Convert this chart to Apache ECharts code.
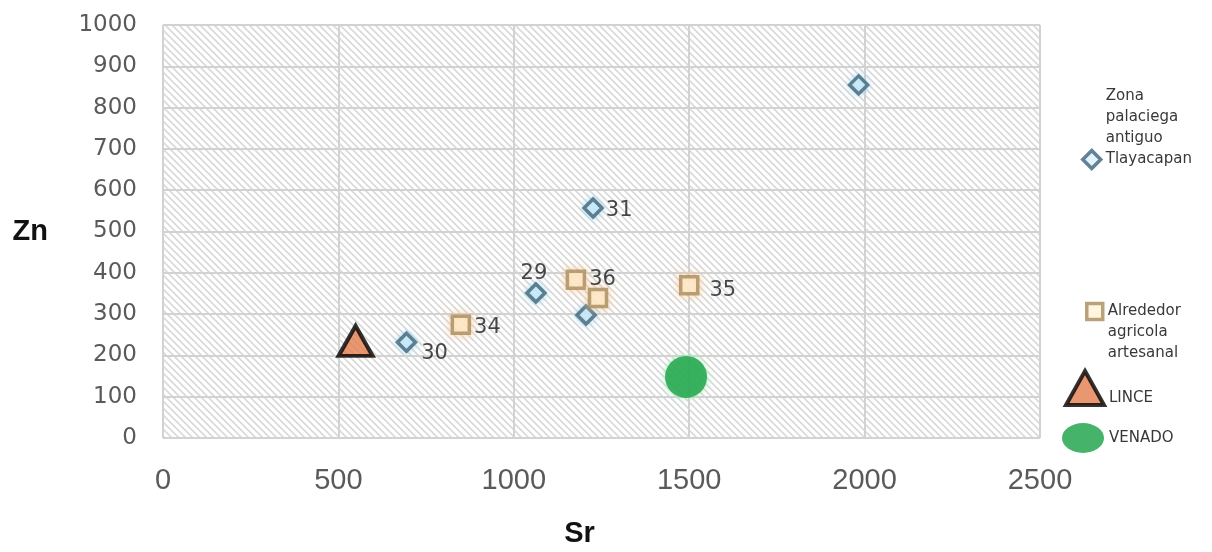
<!DOCTYPE html>
<html>
<head>
<meta charset="utf-8">
<script src="https://cdn.jsdelivr.net/npm/echarts@6/dist/echarts.min.js"></script>
<style>
  html, body { margin: 0; padding: 0; background: #ffffff; }
  #chart { width: 1212px; height: 552px; }
</style>
</head>
<body>
<div id="chart"></div>
<script>
// Sr / Zn values per group
const zonaName = 'Zona palaciega antiguo Tlayacapan';
const zonaSr = [1983, 1226, 1063, 1206, 694];
const zonaZn = [855, 557, 351, 298, 232];
const zonaLabels = ['', '31', '29', '', '30'];

const alrName = 'Alrededor agricola artesanal';
const alrSr = [849, 1177, 1240, 1500];
const alrZn = [274, 383, 339, 370];
const alrLabels = ['34', '36', '', '35'];

const linceName = 'LINCE';
const linceSr = [549];
const linceZn = [235];

const venadoName = 'VENADO';
const venadoSr = [1491];
const venadoZn = [148];

const xTicks = [0, 500, 1000, 1500, 2000, 2500];
const yTicks = [0, 100, 200, 300, 400, 500, 600, 700, 800, 900, 1000];

// label placement for the numbered points
const labelPlacement = {
  '29': { position: 'top', distance: 2, offset: [-2, 4] },
  '30': { position: 'right', distance: 4, offset: [0, 11] },
  '34': { position: 'right', distance: 3, offset: [0, 3] },
  '31': { position: 'right', distance: 2, offset: [0, 3] },
  '36': { position: 'right', distance: 3, offset: [0, 0] },
  '35': { position: 'right', distance: 10, offset: [0, 5] }
};

function points(xs, ys, labels) {
  return xs.map((x, i) => {
    const item = { value: [x, ys[i]] };
    const lab = labels ? labels[i] : '';
    if (lab) {
      const p = labelPlacement[lab];
      item.label = {
        show: true, formatter: lab, position: p.position,
        distance: p.distance, offset: p.offset
      };
    }
    return item;
  });
}

// diagonal hatch used as plot background
function hatchPattern() {
  const s = 7;
  const c = document.createElement('canvas');
  c.width = s; c.height = s;
  const g = c.getContext('2d');
  g.fillStyle = '#ffffff';
  g.fillRect(0, 0, s, s);
  g.strokeStyle = '#d9d9d9';
  g.lineWidth = 1.6;
  g.beginPath();
  g.moveTo(-1, -1); g.lineTo(s + 1, s + 1);
  g.moveTo(-1, s - 1); g.lineTo(1, s + 1);
  g.moveTo(s - 1, -1); g.lineTo(s + 1, 1);
  g.stroke();
  return c;
}

const plain = v => String(v);
const labelFont = { fontFamily: 'DejaVu Sans', fontSize: 21, color: '#1a1a1a' };
const legendText = { fontFamily: 'DejaVu Sans', fontSize: 15, color: '#383838', lineHeight: 21 };

const diamondStyle = { color: '#dcf1fb', borderColor: '#3f6479', borderWidth: 3.5 };
const squareStyle = { color: '#fff4d8', borderColor: '#a88c5e', borderWidth: 3.5 };
const triangleStyle = { color: '#e27d4c', borderColor: '#000000', borderWidth: 4 };
const circleStyle = { color: '#18a045', borderWidth: 0 };

const chart = echarts.init(document.getElementById('chart'), null, { renderer: 'canvas' });

chart.setOption({
  backgroundColor: '#ffffff',
  animation: false,
  grid: {
    left: 163, right: 172, top: 25, bottom: 114,
    outerBoundsMode: 'none',
    containLabel: false,
    show: true,
    backgroundColor: { image: hatchPattern(), repeat: 'repeat' },
    borderColor: '#d2d2d2', borderWidth: 1
  },
  xAxis: {
    type: 'value', min: xTicks[0], max: xTicks[xTicks.length - 1], interval: 500,
    name: 'Sr', nameLocation: 'middle', nameGap: 81,
    nameTextStyle: {
      fontFamily: 'Liberation Sans', fontWeight: 'bold', fontSize: 29, color: '#111111',
      padding: [0, 44, 0, 0]
    },
    axisLine: { show: false }, axisTick: { show: false },
    axisLabel: { margin: 28, formatter: plain, fontFamily: 'Liberation Sans', fontSize: 29, color: '#5a5a5a' },
    splitLine: { show: true, lineStyle: { color: '#d2d2d2', width: 2 } }
  },
  yAxis: {
    type: 'value', min: yTicks[0], max: yTicks[yTicks.length - 1], interval: 100,
    name: 'Zn', nameLocation: 'middle', nameGap: 115, nameRotate: 0,
    nameTextStyle: { fontFamily: 'Liberation Sans', fontWeight: 'bold', fontSize: 29, color: '#111111' },
    axisLine: { show: false }, axisTick: { show: false },
    axisLabel: { margin: 26, formatter: plain, fontFamily: 'DejaVu Sans', fontSize: 23, color: '#5a5a5a' },
    splitLine: { show: true, lineStyle: { color: '#d2d2d2', width: 2 } }
  },
  legend: [
    {
      data: [zonaName], left: 1076, top: 81, orient: 'vertical',
      itemWidth: 18, itemHeight: 18, icon: 'diamond',
      itemStyle: diamondStyle,
      formatter: () => 'Zona\npalaciega\nantiguo\nTlayacapan\n\n\n',
      textStyle: legendText
    },
    {
      data: [alrName], left: 1080, top: 254, orient: 'vertical',
      itemWidth: 16, itemHeight: 16, icon: 'rect',
      itemStyle: squareStyle,
      formatter: () => '\n\nAlrededor\nagricola\nartesanal',
      textStyle: legendText
    },
    {
      data: [linceName], left: 1059, top: 362, orient: 'vertical',
      itemWidth: 38, itemHeight: 34, icon: 'triangle',
      itemStyle: triangleStyle,
      formatter: n => '\n' + n,
      textStyle: legendText
    },
    {
      data: [{ name: venadoName, icon: 'path://M0,15 A21,15 0 1 1 42,15 A21,15 0 1 1 0,15 Z' }],
      left: 1057, top: 418, orient: 'vertical',
      itemWidth: 42, itemHeight: 30,
      itemStyle: circleStyle,
      textStyle: legendText
    }
  ],
  series: [
    {
      name: zonaName, type: 'scatter', symbol: 'diamond', symbolSize: 18,
      itemStyle: Object.assign({ shadowBlur: 6, shadowColor: 'rgba(160,215,240,0.9)' }, diamondStyle),
      label: labelFont,
      data: points(zonaSr, zonaZn, zonaLabels)
    },
    {
      name: alrName, type: 'scatter', symbol: 'rect', symbolSize: 17,
      itemStyle: Object.assign({ shadowBlur: 8, shadowColor: 'rgba(252,200,150,0.9)' }, squareStyle),
      label: labelFont,
      data: points(alrSr, alrZn, alrLabels)
    },
    {
      name: linceName, type: 'scatter', symbol: 'triangle', symbolSize: [34, 30],
      itemStyle: triangleStyle,
      data: points(linceSr, linceZn)
    },
    {
      name: venadoName, type: 'scatter', symbol: 'circle', symbolSize: 42,
      itemStyle: Object.assign({ shadowBlur: 6, shadowColor: 'rgba(150,240,170,0.9)' }, circleStyle),
      data: points(venadoSr, venadoZn)
    }
  ]
});
</script>
</body>
</html>
